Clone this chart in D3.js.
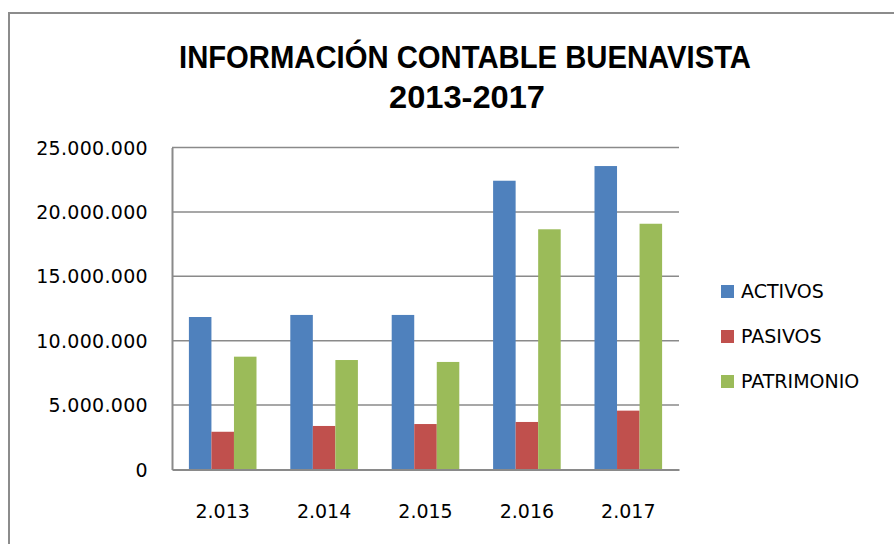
<!DOCTYPE html>
<html>
<head>
<meta charset="utf-8">
<script src="https://cdn.jsdelivr.net/npm/d3@7"></script>
<style>
  body { margin: 0; background: #fff; }
  text { font-family: "DejaVu Sans", Verdana, sans-serif; fill: #000; }
</style>
</head>
<body>
<div id="chart"></div>
<script>
const years = ['2.013', '2.014', '2.015', '2.016', '2.017'];
const series = ['ACTIVOS', 'PASIVOS', 'PATRIMONIO'];
const activos = [11840000, 12000000, 12000000, 22420000, 23560000];
const pasivos = [2930000, 3380000, 3530000, 3690000, 4570000];
const patrimonio = [8760000, 8500000, 8350000, 18650000, 19080000];
const yTicks = [0, 5000000, 10000000, 15000000, 20000000, 25000000];
const colors = ['#4F81BD', '#C0504D', '#9BBB59'];

document.addEventListener('DOMContentLoaded', function() {
    const W = 894, H = 544;
    const plot = { left: 172, right: 679, top: 147.5, bottom: 469.5 };

    const svg = d3.select('#chart')
                  .append('svg')
                  .attr('width', W)
                  .attr('height', H);

    // outer chart frame (runs off the right and bottom edges)
    svg.append('rect')
       .attr('x', 9).attr('y', 13)
       .attr('width', W + 20).attr('height', H + 20)
       .attr('fill', 'none')
       .attr('stroke', '#8c8c8c')
       .attr('stroke-width', 2);

    // title
    svg.append('text')
       .attr('x', 465).attr('y', 68)
       .attr('text-anchor', 'middle')
       .attr('textLength', 572)
       .attr('lengthAdjust', 'spacingAndGlyphs')
       .style('font-family', '"Liberation Sans Narrow", "Liberation Sans", Arial, sans-serif')
       .style('font-weight', 'bold')
       .style('font-size', '31px')
       .text('INFORMACIÓN CONTABLE BUENAVISTA');
    svg.append('text')
       .attr('x', 467).attr('y', 108)
       .attr('text-anchor', 'middle')
       .attr('textLength', 156)
       .attr('lengthAdjust', 'spacingAndGlyphs')
       .style('font-family', '"Liberation Sans Narrow", "Liberation Sans", Arial, sans-serif')
       .style('font-weight', 'bold')
       .style('font-size', '31px')
       .text('2013-2017');

    const x = d3.scaleBand()
                .domain(years)
                .range([plot.left, plot.right])
                .paddingInner(0)
                .paddingOuter(0);
    const xInner = d3.scaleBand()
                     .domain(series)
                     .range([0, x.bandwidth()])
                     .paddingOuter(0.75)
                     .paddingInner(0);
    const y = d3.scaleLinear()
                .domain([0, 25000000])
                .range([plot.bottom, plot.top]);

    const fmt = v => v === 0 ? '0' : d3.format(',')(v).replace(/,/g, '.');

    // gridlines
    svg.append('g')
       .selectAll('line')
       .data(yTicks.slice(1))
       .enter()
       .append('line')
       .attr('x1', plot.left).attr('x2', plot.right)
       .attr('y1', d => y(d)).attr('y2', d => y(d))
       .attr('stroke', '#8a8a8a')
       .attr('stroke-width', 1.5);

    // y axis
    const yAxis = svg.append('g')
       .attr('transform', `translate(${plot.left},0)`)
       .call(d3.axisLeft(y).tickValues(yTicks).tickFormat(fmt).tickSize(0).tickPadding(24));
    yAxis.select('.domain').attr('stroke', '#8a8a8a').attr('stroke-width', 2);
    yAxis.selectAll('text').style('font-size', '19px').style('letter-spacing', '0.3px').attr('dy', '0.35em');

    // bars
    const data = [activos, pasivos, patrimonio];
    series.forEach((s, si) => {
        svg.append('g')
           .selectAll('rect')
           .data(data[si])
           .enter()
           .append('rect')
           .attr('x', (d, i) => x(years[i]) + xInner(s))
           .attr('y', d => y(d))
           .attr('width', xInner.bandwidth())
           .attr('height', d => y(0) - y(d))
           .attr('fill', colors[si]);
    });

    // x axis
    const xAxis = svg.append('g')
       .attr('transform', `translate(0,${plot.bottom})`)
       .call(d3.axisBottom(x).tickSize(0).tickPadding(35));
    xAxis.select('.domain').attr('stroke', '#8a8a8a').attr('stroke-width', 2);
    xAxis.selectAll('text').style('font-size', '19px');

    // legend
    const legend = svg.append('g')
       .selectAll('g')
       .data(series)
       .enter()
       .append('g')
       .attr('transform', (d, i) => `translate(721,${291 + i * 45})`);
    legend.append('rect')
          .attr('x', 0).attr('y', -6)
          .attr('width', 13).attr('height', 13)
          .attr('fill', (d, i) => colors[i]);
    legend.append('text')
          .attr('x', 20).attr('y', 0)
          .attr('dy', '0.36em')
          .style('font-size', '19px')
          .text(d => d);
});
</script>
</body>
</html>
